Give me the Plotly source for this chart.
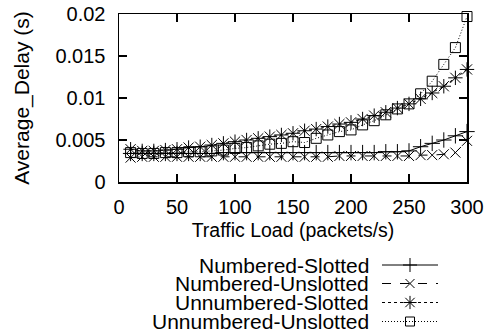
import plotly.graph_objects as go

W, H = 487, 332

traffic = list(range(10, 301, 10))
series_names = ["Numbered-Slotted", "Numbered-Unslotted", "Unnumbered-Slotted", "Unnumbered-Unslotted"]

numbered_slotted = [0.0034, 0.0034, 0.0034, 0.0034, 0.0034, 0.0034, 0.0034, 0.0034, 0.0035, 0.0035,
                    0.0035, 0.0035, 0.0035, 0.0035, 0.0035, 0.0035, 0.0035, 0.0035, 0.0035, 0.0035,
                    0.0035, 0.0035, 0.0036, 0.0036, 0.0037, 0.0042, 0.0046, 0.0050, 0.0055, 0.0060]
numbered_unslotted = [0.0029, 0.0030, 0.0030, 0.0030, 0.0030, 0.0030, 0.0030, 0.0030, 0.0030, 0.0030,
                      0.0030, 0.0030, 0.0030, 0.0030, 0.0030, 0.0030, 0.0030, 0.0030, 0.0031, 0.0031,
                      0.0031, 0.0031, 0.0031, 0.0031, 0.0031, 0.0032, 0.0032, 0.0033, 0.0035, 0.0049]
unnumbered_slotted = [0.0039, 0.0037, 0.0037, 0.0038, 0.0039, 0.0041, 0.0042, 0.0044, 0.0046, 0.0048,
                      0.0050, 0.0052, 0.0054, 0.0056, 0.0058, 0.0061, 0.0063, 0.0066, 0.0069, 0.0071,
                      0.0075, 0.0079, 0.0083, 0.0088, 0.0093, 0.0099, 0.0106, 0.0114, 0.0124, 0.0134]
unnumbered_unslotted = [0.0035, 0.0034, 0.0034, 0.0035, 0.0035, 0.0036, 0.0036, 0.0037, 0.0038, 0.0040,
                        0.0041, 0.0043, 0.0045, 0.0046, 0.0048, 0.0047, 0.0052, 0.0056, 0.0060, 0.0062,
                        0.0068, 0.0073, 0.0080, 0.0087, 0.0093, 0.0105, 0.0120, 0.0140, 0.0160, 0.0197]

x_ticks = [0, 50, 100, 150, 200, 250, 300]
y_ticks = [0, 0.005, 0.01, 0.015, 0.02]
y_tick_labels = ["0", "0.005", "0.01", "0.015", "0.02"]

all_series = [numbered_slotted, numbered_unslotted, unnumbered_slotted, unnumbered_unslotted]
symbols = ["cross-thin-open", "x-thin-open", "asterisk-open", "square-open"]
sizes = [11, 10, 12, 10]
dashes = ["solid", "dash", "3px,3px", "1px,2px"]

FONT = "Liberation Sans, Arial, sans-serif"
fig = go.Figure()

for name, vals, sym, sz, dash in zip(series_names, all_series, symbols, sizes, dashes):
    fig.add_trace(go.Scatter(
        x=traffic, y=vals, mode="lines+markers", name=name,
        line=dict(color="black", width=1, dash=dash),
        marker=dict(symbol=sym, size=sz, color="black", line=dict(color="black", width=1)),
        showlegend=False, cliponaxis=False,
    ))

# custom gnuplot-style key (text right-aligned, sample to the right)
row_y = [265, 283.5, 302.5, 321.5]
for name, sym, sz, dash, ry in zip(series_names, symbols, sizes, dashes, row_y):
    fig.add_trace(go.Scatter(
        x=[382, 438], y=[ry, ry], mode="lines", xaxis="x2", yaxis="y2",
        line=dict(color="black", width=1, dash=dash), showlegend=False, hoverinfo="skip"))
    fig.add_trace(go.Scatter(
        x=[410], y=[ry], mode="markers", xaxis="x2", yaxis="y2",
        marker=dict(symbol=sym, size=sz - 1, color="black", line=dict(color="black", width=1)),
        showlegend=False, hoverinfo="skip"))
    fig.add_annotation(x=371, y=ry, xref="x2", yref="y2", text=name, showarrow=False,
                       xanchor="right", yanchor="middle",
                       font=dict(family=FONT, size=21, color="black"))

axis_common = dict(showline=True, linecolor="black", linewidth=1.5, mirror="ticks",
                   ticks="inside", ticklen=8, tickwidth=1.5, tickcolor="black",
                   showgrid=False, zeroline=False,
                   tickfont=dict(family=FONT, size=20, color="black"))

fig.update_layout(
    width=W, height=H,
    margin=dict(l=0, r=0, t=0, b=0),
    paper_bgcolor="white", plot_bgcolor="rgba(0,0,0,0)",
    xaxis=dict(domain=[119 / W, 467 / W], range=[0, 300], tickvals=x_ticks,
               title=dict(text="Traffic Load (packets/s)", font=dict(family=FONT, size=19.5, color="black"),
                          standoff=7),
               automargin=False, anchor="y", ticklabelstandoff=6, **axis_common),
    yaxis=dict(domain=[1 - 182 / H, 1 - 14 / H], range=[0, 0.02], tickvals=y_ticks,
               ticktext=y_tick_labels,
               title=dict(text="Average_Delay (s)", font=dict(family=FONT, size=21, color="black"),
                          standoff=20),
               automargin=False, anchor="x", ticklabelstandoff=8, **axis_common),
    xaxis2=dict(domain=[0, 1], range=[0, W], visible=False, anchor="y2", fixedrange=True),
    yaxis2=dict(domain=[0, 1], range=[H, 0], visible=False, anchor="x2", fixedrange=True),
    showlegend=False,
)

fig.write_html("out.html", config={"displayModeBar": False, "staticPlot": True},
               post_script="document.body.style.margin='0';document.body.style.overflow='hidden';")
